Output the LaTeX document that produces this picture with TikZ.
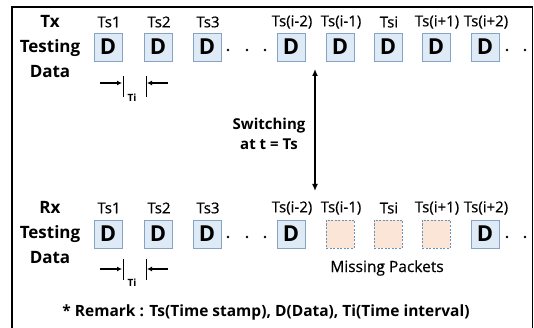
\documentclass[tikz,border=0pt]{standalone}
\usepackage{fontspec}
\setmainfont{Open Sans}
\newfontfamily\medfont{Open Sans}[FakeBold=0.5]
\usetikzlibrary{arrows.meta}
\definecolor{dfill}{HTML}{DEEBF7}
\definecolor{dline}{HTML}{86A3C6}
\definecolor{mfill}{HTML}{FBE5D6}
\definecolor{mline}{HTML}{6F8FB5}
\tikzset{
  dbox/.style={draw=dline, fill=dfill, line width=0.8pt, minimum width=28pt, minimum height=28pt, inner sep=0pt, font=\fontsize{22}{22}\selectfont\bfseries},
  mbox/.style={draw=mline, fill=mfill, dashed, dash pattern=on 2pt off 1.5pt, line width=0.8pt, minimum width=28pt, minimum height=28pt, inner sep=0pt},
  tslab/.style={inner sep=0pt, font=\medfont\fontsize{15}{15}\selectfont},
  sidelab/.style={inner sep=0pt, align=center, font=\fontsize{17}{25}\selectfont\bfseries},
  tilab/.style={inner sep=0pt, font=\fontsize{10}{10}\selectfont\bfseries},
  tiarrow/.style={line width=1.2pt, -{Latex[length=5pt,width=5pt]}},
  tick/.style={line width=0.6pt},
  dot/.style={fill=black},
}
\begin{document}
\begin{tikzpicture}[x=1pt,y=-1pt]
\useasboundingbox (0,0) rectangle (534,328);
% frame
\draw[line width=1.2pt] (12,335) -- (12,7) -- (532.5,7) -- (532.5,335);
% side labels
\node[sidelab] (txlab) at (50,47) {Tx\\Testing\\Data};
\node[sidelab] (rxlab) at (50,233) {Rx\\Testing\\Data};
% Tx boxes
\foreach \x/\n/\l in {108/1/Ts1, 158/2/Ts2, 207/3/Ts3, 291/4/Ts(i-2), 340/5/Ts(i-1), 388/6/Tsi, 436/7/Ts(i+1), 485/8/Ts(i+2)}{
  \node[dbox] (t\n) at (\x,47) {D};
  \node[tslab] (tl\n) at (\x+1,22) {\l};
}
% Rx boxes
\foreach \x/\n/\l in {108/1/Ts1, 158/2/Ts2, 207/3/Ts3, 291/4/Ts(i-2), 485/8/Ts(i+2)}{
  \node[dbox] (r\n) at (\x,234) {D};
}
\foreach \x/\n in {340/5, 388/6, 436/7}{
  \node[mbox] (r\n) at (\x,234) {};
}
\foreach \x/\n/\l in {108/1/Ts1, 158/2/Ts2, 207/3/Ts3, 291/4/Ts(i-2), 340/5/Ts(i-1), 388/6/Tsi, 436/7/Ts(i+1), 485/8/Ts(i+2)}{
  \node[tslab] (rl\n) at (\x+1,208) {\l};
}
% dots
\foreach \y in {50,237}{
  \foreach \x in {228,247,265,507,525}{
    \fill[dot] (\x,\y) circle (1.3pt);
  }
}
% Ti markers, Tx
\coordinate (ta1) at (100,83);
\coordinate (ta2) at (122,83);
\coordinate (ta3) at (168,83);
\coordinate (ta4) at (147,83);
\draw[tick] (123,76) -- (123,97);
\draw[tick] (146,76) -- (146,97);
\draw[tiarrow] (ta1) -- (ta2);
\draw[tiarrow] (ta3) -- (ta4);
\node[tilab] (til1) at (132,98) {Ti};
% Ti markers, Rx
\coordinate (ra1) at (100,269);
\coordinate (ra2) at (122,269);
\coordinate (ra3) at (168,269);
\coordinate (ra4) at (147,269);
\draw[tick] (123,259) -- (123,280);
\draw[tick] (146,259) -- (146,280);
\draw[tiarrow] (ra1) -- (ra2);
\draw[tiarrow] (ra3) -- (ra4);
\node[tilab] (til2) at (132,283) {Ti};
% switching arrow
\coordinate (swtop) at (315,69);
\coordinate (swbot) at (315,191);
\draw[line width=1.8pt, {Latex[length=7pt,width=6pt]}-{Latex[length=7pt,width=6pt]}] (swtop) -- (swbot);
\node[sidelab, font=\fontsize{15}{20}\selectfont\bfseries] (sw) at (269,134) {Switching\\at t = Ts};
% missing packets
\node[tslab, font=\medfont\fontsize{15.5}{15}\selectfont] (miss) at (387,268) {Missing Packets};
% remark
\node[inner sep=0pt, font=\fontsize{15.5}{15}\selectfont\bfseries] (remark) at (266,312) {* Remark : Ts(Time stamp), D(Data), Ti(Time interval)};
\end{tikzpicture}
\end{document}
